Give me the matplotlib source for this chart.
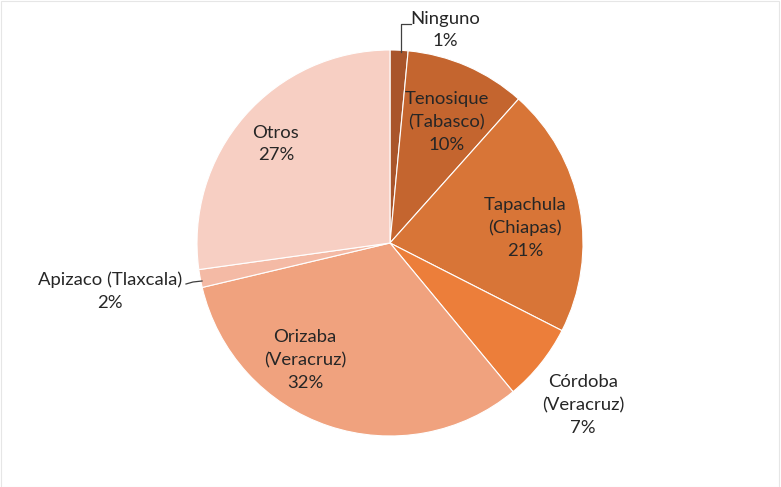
import matplotlib.pyplot as plt

# Pie data (clockwise from 12 o'clock), shares
labels = ["Ninguno", "Tenosique\n(Tabasco)", "Tapachula\n(Chiapas)", "Córdoba\n(Veracruz)",
          "Orizaba\n(Veracruz)", "Apizaco (Tlaxcala)", "Otros"]
values = [1.5, 10.1, 20.9, 6.5, 32.3, 1.5, 27.2]
pct_text = ["1%", "10%", "21%", "7%", "32%", "2%", "27%"]
colors = ["#A9552B", "#C4652F", "#D87537", "#EC7E3A", "#F0A27E", "#F4BAA5", "#F7CFC3"]

# label centres in data units (pie radius = 1)
label_pos = [(0.285, 1.104), (0.295, 0.627), (0.699, 0.078), (1.0, -0.839),
             (-0.440, -0.606), (-1.451, -0.249), (-0.591, 0.513)]

plt.rcParams["font.family"] = ["Lato", "DejaVu Sans"]

W, H = 781, 487
fig = plt.figure(figsize=(W / 100, H / 100), dpi=100)
cx, cy, r = 390, 243, 193
ax = fig.add_axes([(cx - r) / W, (H - cy - r) / H, 2 * r / W, 2 * r / H])
ax.pie(values, colors=colors, startangle=90, counterclock=False, radius=1,
       wedgeprops=dict(edgecolor="white", linewidth=0.8))
ax.set_xlim(-1, 1)
ax.set_ylim(-1, 1)
ax.set_aspect("equal")
ax.axis("off")

for lab, p, (x, y) in zip(labels, pct_text, label_pos):
    ax.text(x, y, f"{lab}\n{p}", ha="center", va="center", fontsize=13.3,
            color="#262626", linespacing=1.5)

def px(p):
    return ((p[0] - cx) / r, (cy - p[1]) / r)

# leader lines
for pts in [[(401, 52), (401, 24), (411, 24)], [(186, 284), (193, 282), (202, 281)]]:
    xy = [px(p) for p in pts]
    ax.plot([a for a, b in xy], [b for a, b in xy], color="#404040", lw=0.9, clip_on=False)

# faint outer border
fig.patches.append(plt.Rectangle((0.001, 0.001), 0.997, 0.997, transform=fig.transFigure,
                                 fill=False, edgecolor="#e6e6e6", lw=0.8))

fig.savefig("out.png", dpi=100)
